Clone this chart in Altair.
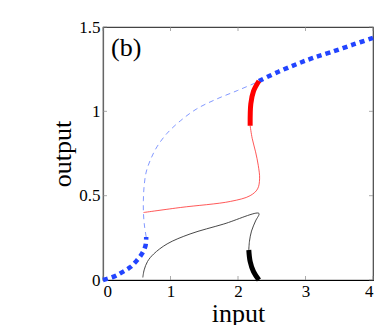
import altair as alt
import pandas as pd

# ---- data ----
blue_low_x = [0.0, 0.16, 0.28, 0.40, 0.50, 0.58, 0.63, 0.64]
blue_low_y = [0.0, 0.02, 0.045, 0.075, 0.115, 0.158, 0.204, 0.255]

blue_mid_x = [0.64, 0.615, 0.60, 0.598, 0.61, 0.64, 0.70, 0.80, 0.95, 1.15, 1.39, 1.69, 1.99, 2.28, 2.31]
blue_mid_y = [0.255, 0.32, 0.39, 0.47, 0.56, 0.64, 0.71, 0.79, 0.87, 0.945, 1.015, 1.074, 1.123, 1.173, 1.18]

blue_high_x = [2.31, 2.6, 2.87, 3.1, 3.37, 3.7, 4.0]
blue_high_y = [1.18, 1.235, 1.28, 1.315, 1.35, 1.395, 1.435]

red_thin_x = [0.60, 1.15, 1.89, 2.18, 2.29, 2.32, 2.30, 2.26, 2.21, 2.18]
red_thin_y = [0.40, 0.43, 0.466, 0.50, 0.54, 0.60, 0.68, 0.76, 0.84, 0.915]

red_thick_x = [2.18, 2.19, 2.23, 2.31]
red_thick_y = [0.915, 1.045, 1.12, 1.18]

black_thin_x = [0.59, 0.61, 0.66, 0.75, 0.95, 1.29, 1.79, 2.31, 2.26, 2.20, 2.17, 2.16]
black_thin_y = [0.015, 0.06, 0.11, 0.154, 0.214, 0.273, 0.332, 0.395, 0.35, 0.29, 0.23, 0.178]

black_thick_x = [2.16, 2.18, 2.23, 2.31]
black_thick_y = [0.178, 0.11, 0.05, 0.0]

x_ticks = [0, 1, 2, 3, 4]
y_ticks = [0, 0.5, 1, 1.5]

panel_label = "(b)"
FONT = "Liberation Serif"


def frame(xs, ys):
    return pd.DataFrame({"x": xs, "y": ys, "i": list(range(len(xs)))})


xscale = alt.Scale(domain=[x_ticks[0], x_ticks[-1]], nice=False, zero=False)
yscale = alt.Scale(domain=[y_ticks[0], y_ticks[-1]], nice=False, zero=False)

x_main = alt.X("x:Q", scale=xscale, axis=alt.Axis(
    values=x_ticks, title="input", ticks=False, grid=False, labelPadding=3,
    domainColor="#000000", domainWidth=1.2, titlePadding=1, format="~g",
    labelFont=FONT, labelFontSize=17, labelColor="black",
    titleFont=FONT, titleFontSize=26, titleFontWeight="normal", titleColor="black"))
y_main = alt.Y("y:Q", scale=yscale, axis=alt.Axis(
    values=y_ticks, title="output", ticks=False, grid=False, labelPadding=3,
    domainColor="#666666", domainWidth=1.2, titlePadding=3, format="~g",
    labelFont=FONT, labelFontSize=17, labelColor="black",
    titleFont=FONT, titleFontSize=26, titleFontWeight="normal", titleColor="black"))


def seg(xs, ys, color, width, dash=None, opacity=1.0):
    kw = dict(color=color, strokeWidth=width, opacity=opacity, strokeCap="butt",
              interpolate="catmull-rom")
    if dash:
        kw["strokeDash"] = dash
    return alt.Chart(frame(xs, ys)).mark_line(**kw).encode(
        x=x_main, y=y_main, order=alt.Order("i:Q"))


TICK_C = "#888888"
bot_ticks = alt.Chart(pd.DataFrame({"x": x_ticks, "y": [y_ticks[0]] * len(x_ticks)})).mark_tick(
    orient="vertical", size=4, thickness=1, yOffset=-2, color=TICK_C).encode(x=x_main, y=y_main)
top_ticks = alt.Chart(pd.DataFrame({"x": x_ticks, "y": [y_ticks[-1]] * len(x_ticks)})).mark_tick(
    orient="vertical", size=4, thickness=1, yOffset=2, color=TICK_C).encode(x=x_main, y=y_main)
left_ticks = alt.Chart(pd.DataFrame({"x": [x_ticks[0]] * len(y_ticks), "y": y_ticks})).mark_tick(
    orient="horizontal", size=4, thickness=1, xOffset=2, color=TICK_C).encode(x=x_main, y=y_main)
right_ticks = alt.Chart(pd.DataFrame({"x": [x_ticks[-1]] * len(y_ticks), "y": y_ticks})).mark_tick(
    orient="horizontal", size=4, thickness=1, xOffset=-2, color=TICK_C).encode(x=x_main, y=y_main)

BLUE = "#2244ff"
chart = alt.layer(
    bot_ticks, top_ticks, left_ticks, right_ticks,
    seg(blue_mid_x, blue_mid_y, "#4466ff", 0.9, [5, 4], 0.75),
    seg(red_thin_x, red_thin_y, "#ff2222", 1.0, None, 0.75),
    seg(black_thin_x, black_thin_y, "#333333", 0.9),
    seg(blue_low_x, blue_low_y, BLUE, 4.5, [5, 4]),
    seg(blue_high_x, blue_high_y, BLUE, 4.5, [5, 4]),
    seg(red_thick_x, red_thick_y, "#ff0000", 5),
    seg(black_thick_x, black_thick_y, "#000000", 5),
    alt.Chart(pd.DataFrame({"x": [0.12], "y": [1.373], "t": [panel_label]})).mark_text(
        font=FONT, fontSize=26, align="left", baseline="middle", color="black"
    ).encode(x=x_main, y=y_main, text="t:N"),
).properties(
    width=270, height=253,
    autosize=alt.AutoSizeParams(type="none"),
    padding={"left": 95, "top": 19, "right": 1, "bottom": 45},
).configure_view(stroke="#444444", strokeWidth=1.2)

chart.save("out.html", embed_options={"renderer": "svg", "actions": False})
